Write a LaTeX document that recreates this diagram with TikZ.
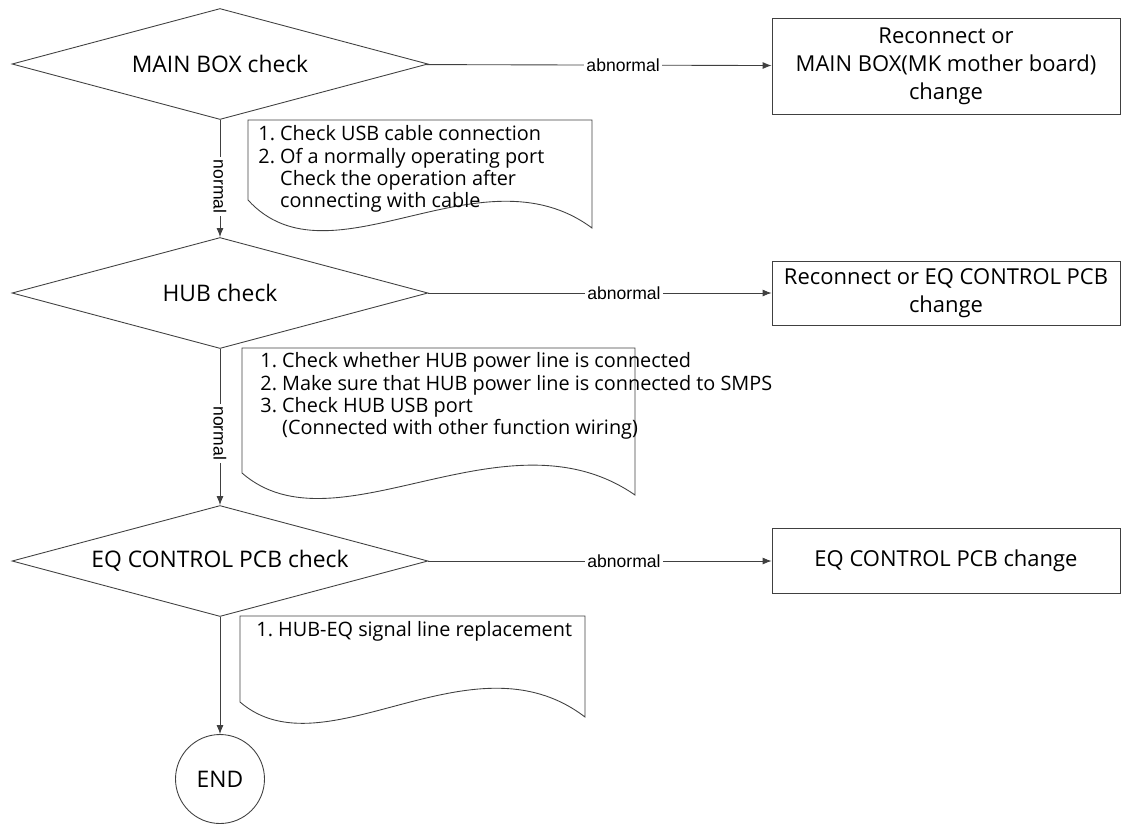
\documentclass[tikz,border=0pt]{standalone}
\usepackage{fontspec}
\setmainfont{Open Sans}
\newfontfamily\tagfont{Liberation Sans}
\usetikzlibrary{shapes.geometric,arrows.meta}

\begin{document}
\begin{tikzpicture}[x=0.02cm,y=-0.02cm,line width=0.5pt,
  check/.style={diamond,aspect=3.75,draw=black!75,minimum width=8.32cm,minimum height=2.22cm,inner sep=0pt,font=\fontsize{13}{15}\selectfont},
  act/.style={draw=black!75,minimum width=6.96cm,align=center,font=\fontsize{12.5}{16}\selectfont},
  memo/.style={anchor=north west,inner sep=0pt,align=left,font=\fontsize{11.3}{12.6}\selectfont},
  tag/.style={fill=white,inner sep=1.5pt,font=\tagfont\fontsize{10}{12}\selectfont},
  flow/.style={draw=black!75,-{Latex[length=1.8mm,width=1.4mm]}}]
\useasboundingbox (0,0) rectangle (1126,826);
\node[check] (main) at (220,64) {MAIN BOX check};
\node[check] (hub) at (220,293) {HUB check};
\node[check] (eq) at (220,561) {EQ CONTROL PCB check};
\node[draw=black!75,circle,minimum size=1.78cm,font=\fontsize{13}{15}\selectfont] (stop) at (220,779) {END};
\node[act,minimum height=1.92cm] (fix1) at (946,66) {Reconnect or\\MAIN BOX(MK mother board)\\change};
\node[act,minimum height=1.28cm] (fix2) at (946,293) {Reconnect or EQ CONTROL PCB\\change};
\node[act,minimum height=1.3cm] (fix3) at (946,561) {EQ CONTROL PCB change};
\draw[draw=black!75] (248,120) -- (592,120) -- (592,228) .. controls (480,145) and (330,290) .. (248,200) -- cycle;
\draw[draw=black!75] (242,348) -- (635,348) -- (635,495) .. controls (505,405) and (336,555) .. (242,473) -- cycle;
\draw[draw=black!75] (240,616) -- (585,616) -- (585,717) .. controls (471,630) and (325,775) .. (240,702) -- cycle;
\node[memo] (memo1) at (258,125) {\begin{tabular}{@{}l@{\ }l@{}}1.&Check USB cable connection\\2.&Of a normally operating port\\&Check the operation after\\&connecting with cable\end{tabular}};
\node[memo] (memo2) at (260,352) {\begin{tabular}{@{}l@{\ }l@{}}1.&Check whether HUB power line is connected\\2.&Make sure that HUB power line is connected to SMPS\\3.&Check HUB USB port\\&(Connected with other function wiring)\end{tabular}};
\node[memo] (memo3) at (256,621) {\begin{tabular}{@{}l@{\ }l@{}}1.&HUB-EQ signal line replacement\end{tabular}};
\draw[flow] (main) -- node[tag,pos=0.57]{abnormal} (fix1);
\draw[flow] (hub) -- node[tag,pos=0.57]{abnormal} (fix2);
\draw[flow] (eq) -- node[tag,pos=0.57]{abnormal} (fix3);
\draw[flow] (main) -- node[tag,rotate=-90,pos=0.57]{normal} (hub);
\draw[flow] (hub) -- node[tag,rotate=-90,pos=0.54]{normal} (eq);
\draw[flow] (eq) -- (stop);
\end{tikzpicture}
\end{document}
